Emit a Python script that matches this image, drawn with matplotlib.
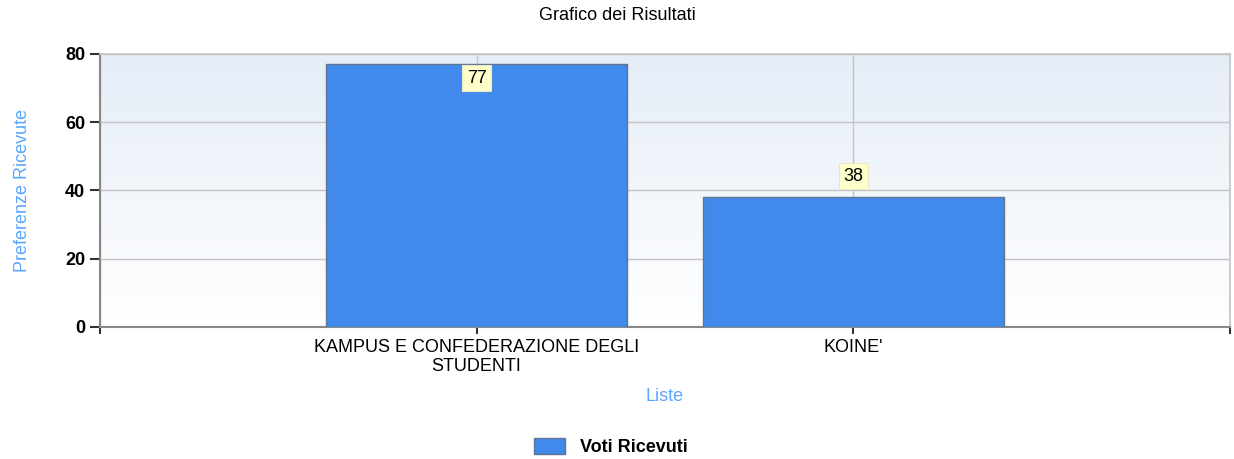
import matplotlib.pyplot as plt
import numpy as np

plt.rcParams['font.family'] = ['Liberation Sans', 'DejaVu Sans']

# data
liste = ["KAMPUS E CONFEDERAZIONE DEGLI\nSTUDENTI", "KOINE'"]
voti = [77, 38]

fig = plt.figure(figsize=(12.34, 4.59), dpi=100)
ax = fig.add_axes([0.081, 0.2876, 0.9157, 0.5948])

# gradient background, light blue on top to white at bottom
grad = np.linspace(0, 1, 256).reshape(-1, 1)
top = np.array([0.90, 0.93, 0.97])
bot = np.array([1.0, 1.0, 1.0])
img = bot + (top - bot) * grad
ax.imshow(img[::-1].reshape(256, 1, 3), extent=[0, 3, 0, 80], aspect='auto',
          origin='upper', zorder=0)

xpos = np.arange(1, len(voti) + 1)
ax.bar(xpos, voti, width=0.8, color='#418aec', edgecolor='#5f7590',
       linewidth=1.0, zorder=3, label='Voti Ricevuti')

# value labels
for x, v in zip(xpos, voti):
    if v + 8 > 80:
        off = -10
    else:
        off = 15
    ax.annotate(str(v), (x, v), xytext=(0, off), textcoords='offset points',
                ha='center', va='center', fontsize=13, zorder=5,
                bbox=dict(boxstyle='square,pad=0.25', fc='#ffffcc', ec='#e8e8c8', lw=0.8))

ax.set_xlim(0, 3)
ax.set_ylim(0, 80)
ax.set_xticks([0, 1, 2, 3])
ax.set_xticklabels([''] + liste + [''], fontsize=13)
ax.set_yticks([0, 20, 40, 60, 80])
ax.set_yticklabels(['0', '20', '40', '60', '80'], fontsize=13, fontweight='bold')
ax.tick_params(axis='both', length=7, width=1.5, color='#333333')
ax.tick_params(axis='x', length=5)

ax.grid(True, color='#c4c4c4', linewidth=1.0, zorder=1)
ax.set_axisbelow(True)

for s in ['left', 'bottom']:
    ax.spines[s].set_color('#888888')
    ax.spines[s].set_linewidth(1.5)
for s in ['top', 'right']:
    ax.spines[s].set_color('#c4c4c4')
    ax.spines[s].set_linewidth(1.2)

fig.text(0.5, 0.966, "Grafico dei Risultati", fontsize=13, ha='center', va='center')
ax.set_ylabel("Preferenze Ricevute", fontsize=13, color='#5aa5ff', labelpad=25)
ax.set_xlabel("Liste", fontsize=13, color='#5aa5ff', labelpad=9)

leg = fig.legend(loc='center', bbox_to_anchor=(0.495, 0.026), frameon=False,
                 prop={'size': 13, 'weight': 'bold'}, handlelength=1.7, handleheight=1.0)

fig.savefig('out.png', dpi=100)
